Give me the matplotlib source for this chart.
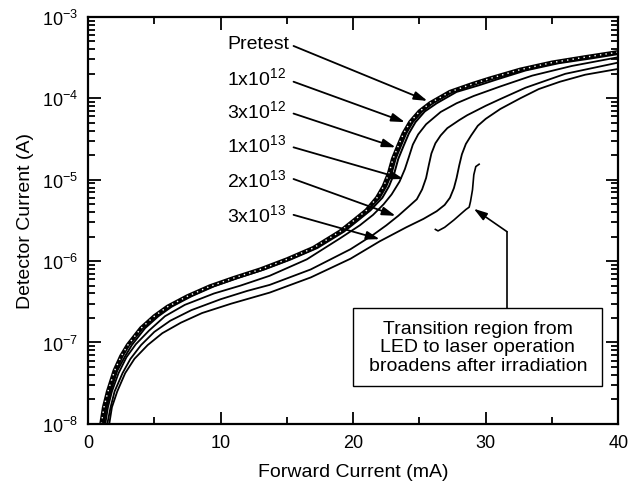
import matplotlib
matplotlib.use("Agg")
from matplotlib import pyplot as plt
from matplotlib.patches import Rectangle
from matplotlib.ticker import LogLocator, FixedLocator, NullFormatter

plt.rcParams['font.family'] = ['Liberation Sans', 'DejaVu Sans']
plt.rcParams['mathtext.default'] = 'regular'

# forward current (mA) / detector current (A)
pre_x = [1.0, 1.2, 1.5, 2.0, 2.5, 3.0, 4.0, 5.0, 6.0, 7.5, 9.2, 11.0, 13.0, 15.0, 17.0,
         19.0, 20.0, 21.0, 21.8, 22.3, 22.7, 23.0, 23.4, 23.8, 24.3, 25.0, 25.8, 27.3,
         29.0, 30.3, 32.6, 35.0, 37.5, 40.0]
pre_y = [1.0e-8, 1.6e-8, 2.5e-8, 4.5e-8, 6.8e-8, 9.3e-8, 1.5e-7, 2.1e-7, 2.75e-7, 3.7e-7,
         4.9e-7, 6.2e-7, 7.9e-7, 1.05e-6, 1.45e-6, 2.3e-6, 3.1e-6, 4.2e-6, 6.0e-6, 8.3e-6,
         1.2e-5, 1.8e-5, 2.6e-5, 3.7e-5, 5.1e-5, 6.9e-5, 8.7e-5, 1.2e-4, 1.5e-4, 1.75e-4,
         2.25e-4, 2.75e-4, 3.2e-4, 3.7e-4]

e12_x = [1.1, 1.3, 1.6, 2.1, 2.6, 3.1, 4.1, 5.1, 6.1, 7.6, 9.3, 11.1, 13.1, 15.1, 17.1,
         19.1, 20.1, 21.1, 22.0, 22.5, 22.9, 23.2, 23.6, 24.0, 24.5, 25.2, 26.0, 27.5,
         29.2, 30.5, 32.8, 35.2, 37.7, 40.0]
e12_y = [1.0e-8, 1.6e-8, 2.5e-8, 4.5e-8, 6.8e-8, 9.3e-8, 1.5e-7, 2.1e-7, 2.75e-7, 3.7e-7,
         4.9e-7, 6.2e-7, 7.9e-7, 1.05e-6, 1.45e-6, 2.3e-6, 3.1e-6, 4.2e-6, 6.0e-6, 8.3e-6,
         1.2e-5, 1.8e-5, 2.6e-5, 3.7e-5, 5.1e-5, 6.9e-5, 8.7e-5, 1.2e-4, 1.5e-4, 1.75e-4,
         2.2e-4, 2.7e-4, 3.15e-4, 3.6e-4]

e3e12_x = [1.2, 1.4, 1.7, 2.2, 2.8, 3.3, 4.3, 5.3, 6.3, 7.8, 9.5, 11.3, 13.3, 15.3, 17.3,
           19.3, 20.3, 21.3, 22.2, 22.7, 23.1, 23.4, 23.8, 24.2, 24.7, 25.4, 26.3, 27.8,
           29.5, 30.8, 33.0, 35.5, 38.0, 40.0]
e3e12_y = [1.0e-8, 1.6e-8, 2.5e-8, 4.5e-8, 6.8e-8, 9.3e-8, 1.5e-7, 2.1e-7, 2.75e-7, 3.7e-7,
           4.9e-7, 6.2e-7, 7.9e-7, 1.05e-6, 1.45e-6, 2.3e-6, 3.1e-6, 4.2e-6, 6.0e-6, 8.3e-6,
           1.2e-5, 1.8e-5, 2.6e-5, 3.7e-5, 5.1e-5, 6.9e-5, 8.7e-5, 1.2e-4, 1.45e-4, 1.7e-4,
           2.2e-4, 2.7e-4, 3.1e-4, 3.5e-4]

e13_x = [1.3, 1.5, 1.8, 2.3, 2.9, 3.6, 4.6, 5.8, 7.3, 9.5, 11.5, 13.7, 16.5, 19.0, 20.5,
         21.5, 22.3, 22.9, 23.5, 23.9, 24.2, 24.5, 24.9, 25.5, 26.6, 27.8, 29.1, 31.1,
         33.5, 36.5, 40.0]
e13_y = [1.0e-8, 1.6e-8, 2.5e-8, 4.2e-8, 6.6e-8, 9.5e-8, 1.4e-7, 2.1e-7, 2.9e-7, 4.0e-7,
         5.0e-7, 6.6e-7, 1.05e-6, 1.9e-6, 2.75e-6, 3.7e-6, 5.0e-6, 6.6e-6, 9.5e-6, 1.35e-5,
         1.9e-5, 2.7e-5, 3.6e-5, 4.8e-5, 6.8e-5, 8.7e-5, 1.07e-4, 1.4e-4, 1.9e-4, 2.5e-4,
         3.2e-4]

e2e13_x = [1.45, 1.7, 2.0, 2.6, 3.2, 4.0, 5.0, 6.2, 7.8, 10.0, 12.0, 13.7, 16.8, 19.8,
           21.5, 22.5, 23.4, 24.2, 24.8, 25.2, 25.5, 25.7, 25.9, 26.2, 26.6, 27.1, 28.0,
           28.6, 30.0, 31.1, 33.0, 36.0, 40.0]
e2e13_y = [1.0e-8, 1.6e-8, 2.5e-8, 4.2e-8, 6.3e-8, 9.3e-8, 1.35e-7, 1.85e-7, 2.5e-7, 3.4e-7,
           4.3e-7, 5.1e-7, 7.9e-7, 1.4e-6, 2.1e-6, 2.75e-6, 3.6e-6, 4.7e-6, 5.75e-6, 7.6e-6,
           1.05e-5, 1.5e-5, 2.1e-5, 2.8e-5, 3.5e-5, 4.3e-5, 5.4e-5, 6.2e-5, 8.1e-5, 9.8e-5,
           1.35e-4, 2.0e-4, 2.75e-4]

e3e13_x = [1.6, 1.8, 2.2, 2.8, 3.5, 4.5, 5.6, 7.0, 8.6, 10.8, 13.7, 16.8, 19.8, 22.0,
           22.8, 24.0, 25.3, 26.3, 26.9, 27.3, 27.6, 27.8, 28.0, 28.2, 28.5, 28.9, 29.4,
           30.0, 31.1, 32.6, 34.0, 35.6, 37.5, 40.0]
e3e13_y = [1.0e-8, 1.6e-8, 2.5e-8, 4.2e-8, 6.3e-8, 9.3e-8, 1.3e-7, 1.75e-7, 2.3e-7, 3.0e-7,
           4.1e-7, 6.3e-7, 1.07e-6, 1.75e-6, 2.05e-6, 2.6e-6, 3.3e-6, 4.1e-6, 4.9e-6, 6.0e-6,
           7.9e-6, 1.05e-5, 1.5e-5, 2.05e-5, 2.75e-5, 3.5e-5, 4.6e-5, 5.6e-5, 7.4e-5, 1.0e-4,
           1.3e-4, 1.6e-4, 1.95e-4, 2.3e-4]

labels = ['Pretest', '1x10$^{12}$', '3x10$^{12}$', '1x10$^{13}$', '2x10$^{13}$', '3x10$^{13}$']
label_y = [4.7e-4, 1.8e-4, 7.1e-5, 2.75e-5, 1.02e-5, 3.8e-6]
tail_y = [4.4e-4, 1.6e-4, 6.5e-5, 2.5e-5, 1.02e-5, 3.7e-6]
head_x = [25.6, 23.9, 23.2, 23.8, 23.2, 22.0]
head_y = [9.3e-5, 5.1e-5, 2.5e-5, 1.02e-5, 3.6e-6, 1.86e-6]

yticks = [1e-8, 1e-7, 1e-6, 1e-5, 1e-4, 1e-3]
ytick_labels = ['10$^{-8}$', '10$^{-7}$', '10$^{-6}$', '10$^{-5}$', '10$^{-4}$', '10$^{-3}$']

note = 'Transition region from\nLED to laser operation\nbroadens after irradiation'

fig = plt.figure(figsize=(6.29, 4.85), dpi=100)
ax = fig.add_axes([0.140, 0.124, 0.843, 0.839])

# the three upper curves overlap into one band, pretest with white dots
ax.plot(pre_x, pre_y, color='black', lw=3.0)
ax.plot(e12_x, e12_y, color='black', lw=1.4)
ax.plot(e3e12_x, e3e12_y, color='black', lw=1.4)
ax.plot(pre_x, pre_y, color='white', lw=1.0, linestyle=(0, (1, 3)))
ax.plot(e13_x, e13_y, color='black', lw=1.3)
ax.plot(e2e13_x, e2e13_y, color='black', lw=1.3)
ax.plot(e3e13_x, e3e13_y, color='black', lw=1.3)

ax.set_yscale('log')
ax.set_xlim(0, 40)
ax.set_ylim(1e-8, 1e-3)
ax.set_xticks([0, 10, 20, 30, 40])
ax.xaxis.set_minor_locator(FixedLocator([5, 15, 25, 35]))
ax.set_yticks(yticks)
ax.set_yticklabels(ytick_labels)
ax.yaxis.set_minor_locator(LogLocator(base=10, subs=range(2, 10), numticks=20))
ax.yaxis.set_minor_formatter(NullFormatter())
ax.tick_params(which='both', direction='in', top=True, right=True, width=1.3,
               labelsize=13, colors='black')
ax.tick_params(which='major', length=9, pad=7)
ax.tick_params(which='minor', length=5)
for sp in ax.spines.values():
    sp.set_linewidth(1.6)

ax.set_xlabel('Forward Current (mA)', fontsize=14, labelpad=9)
ax.set_ylabel('Detector Current (A)', fontsize=14, labelpad=6)

for lab, ly, ty, hx, hy in zip(labels, label_y, tail_y, head_x, head_y):
    ax.text(10.5, ly, lab, fontsize=14, ha='left', va='center')
    ax.annotate('', xy=(hx, hy), xytext=(15.5, ty),
                arrowprops=dict(arrowstyle='-|>,head_length=0.8,head_width=0.25',
                                color='black', lw=1.3, shrinkA=0, shrinkB=0))

# brace marking the broadened transition region
brace_x = [29.5, 29.25, 29.1, 29.0, 28.85, 28.75, 28.5, 28.2, 27.6, 26.9, 26.4, 26.2]
brace_y = [1.55e-5, 1.45e-5, 1.15e-5, 7.5e-6, 5.4e-6, 4.6e-6, 4.3e-6, 3.9e-6, 3.2e-6,
           2.6e-6, 2.35e-6, 2.45e-6]
ax.plot(brace_x, brace_y, color='black', lw=1.2)

ax.plot([31.6, 31.6], [2.66e-7, 2.3e-6], color='black', lw=1.2)
ax.annotate('', xy=(29.1, 4.4e-6), xytext=(31.6, 2.3e-6),
            arrowprops=dict(arrowstyle='-|>,head_length=0.8,head_width=0.25',
                            color='black', lw=1.2, shrinkA=0, shrinkB=0))

ax.add_patch(Rectangle((0.5, 0.093), 0.47, 0.192, transform=ax.transAxes,
                       facecolor='white', edgecolor='black', lw=1.0, zorder=3))
ax.text(0.735, 0.189, note, transform=ax.transAxes, fontsize=14, ha='center',
        va='center', multialignment='center', linespacing=1.15, zorder=4)

fig.savefig('out.png', dpi=100)
